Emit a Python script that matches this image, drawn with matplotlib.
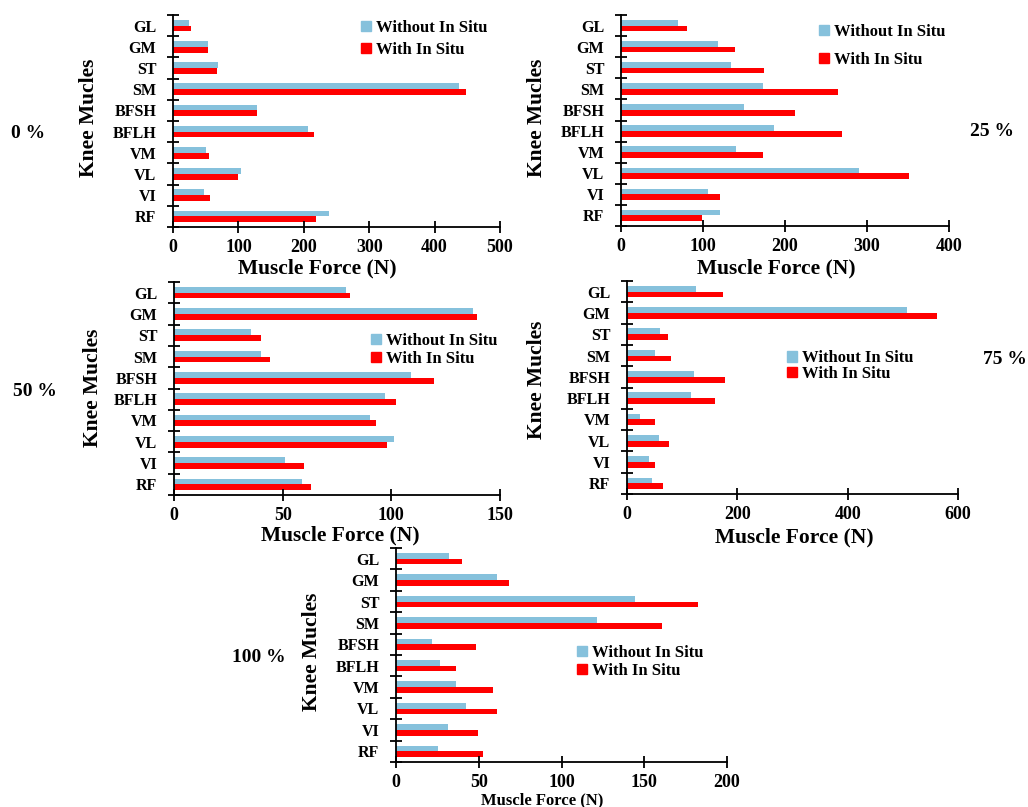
import numpy as np
import matplotlib.pyplot as plt
from matplotlib.patches import Patch

plt.rcParams['font.family'] = 'Liberation Serif'
plt.rcParams['font.weight'] = 'bold'

W, H = 1028, 807

muscles = ['RF', 'VI', 'VL', 'VM', 'BFLH', 'BFSH', 'SM', 'ST', 'GM', 'GL']

# muscle forces (N), same order as `muscles`
without_0 = [238, 47, 104, 51, 206, 128, 437, 69, 54, 25]
with_0 = [218, 57, 100, 55, 216, 129, 448, 67, 53, 27]

without_25 = [121, 106, 290, 140, 187, 150, 173, 134, 118, 70]
with_25 = [99, 121, 351, 173, 270, 212, 265, 174, 139, 80]

without_50 = [59, 51, 101, 90, 97, 109, 40, 35.5, 137.5, 79]
with_50 = [63, 60, 98, 93, 102, 119.5, 44, 40, 139.5, 81]

without_75 = [45, 40, 58, 24, 116, 122, 50, 60, 508, 125]
with_75 = [65, 50, 77, 51, 160, 177, 80, 74, 562, 174]

without_100 = [25.5, 31.5, 42.5, 36.5, 26.5, 21.5, 121.5, 144.5, 61, 32]
with_100 = [52.5, 49.5, 61, 58.5, 36.5, 48.5, 160.5, 182.5, 68, 40]

labels = ['0 %', '25 %', '50 %', '75 %', '100 %']
series = [(without_0, with_0), (without_25, with_25), (without_50, with_50),
          (without_75, with_75), (without_100, with_100)]
xticks = [np.arange(0, 501, 100), np.arange(0, 401, 100), np.arange(0, 151, 50),
          np.arange(0, 601, 200), np.arange(0, 201, 50)]

BLUE = '#86c1dc'
RED = '#ff0000'

# layout in pixels: axes box (left, right, top, bottom), label spots
boxes = [(173, 500, 15, 227), (621, 949, 15, 226), (174, 500, 282, 495),
         (627, 958, 281, 494), (396, 727, 548, 762)]
pct_pos = [(28, 133), (992, 132), (35, 391), (1005, 360), (259, 658)]
ylab_pos = [(89, 118), (537, 118), (93, 388), (537, 380), (312, 652)]
xlab_pos = [(317, 268), (776, 268), (340, 535), (794, 537), (542, 800)]
xlab_size = [15.5, 15.5, 15.5, 15.5, 12]
leg_pos = [(353, 39), (811, 46), (363, 350), (779, 366), (569, 662)]
leg_space = [0.4, 0.75, 0.1, -0.05, 0.1]


def fx(x):
    return x / W


def fy(y):
    return 1 - y / H


fig = plt.figure(figsize=(W / 100, H / 100), dpi=100)
y = np.arange(len(muscles))

for i, (wo, wi) in enumerate(series):
    l, r, t, b = boxes[i]
    ax = fig.add_axes([fx(l), fy(b), (r - l) / W, (b - t) / H])
    ax.barh(y + 0.135, wo, height=0.27, color=BLUE)
    ax.barh(y - 0.135, wi, height=0.27, color=RED)

    ax.set_ylim(-0.5, 9.5)
    ax.set_xlim(xticks[i][0], xticks[i][-1])
    ax.set_xticks(xticks[i])
    ax.set_yticks(np.arange(-0.5, 10, 1))
    ax.set_yticklabels([])
    ax.set_yticks(y, minor=True)
    ax.set_yticklabels(muscles, minor=True, fontsize=11.5)
    ax.tick_params(which='major', direction='inout', length=9, width=1.3)
    ax.tick_params(axis='x', labelsize=13, pad=4)
    ax.tick_params(axis='y', which='minor', length=0, pad=12)
    for s in ['top', 'right']:
        ax.spines[s].set_visible(False)
    for s in ['left', 'bottom']:
        ax.spines[s].set_linewidth(1.3)

    handles = [Patch(color=BLUE, label='Without In Situ'),
               Patch(color=RED, label='With In Situ')]
    ax.legend(handles=handles, loc='center left',
              bbox_to_anchor=(fx(leg_pos[i][0]), fy(leg_pos[i][1])),
              bbox_transform=fig.transFigure, frameon=False, borderpad=0,
              handlelength=0.55, handleheight=0.55, handletextpad=0.35,
              labelspacing=leg_space[i], fontsize=12)

    fig.text(fx(pct_pos[i][0]), fy(pct_pos[i][1]), labels[i], fontsize=14,
             ha='center', va='center')
    fig.text(fx(ylab_pos[i][0]), fy(ylab_pos[i][1]), 'Knee Mucles', fontsize=15.5,
             rotation=90, ha='center', va='center')
    fig.text(fx(xlab_pos[i][0]), fy(xlab_pos[i][1]), 'Muscle Force (N)',
             fontsize=xlab_size[i], ha='center', va='center')

fig.savefig('out.png', dpi=100)
